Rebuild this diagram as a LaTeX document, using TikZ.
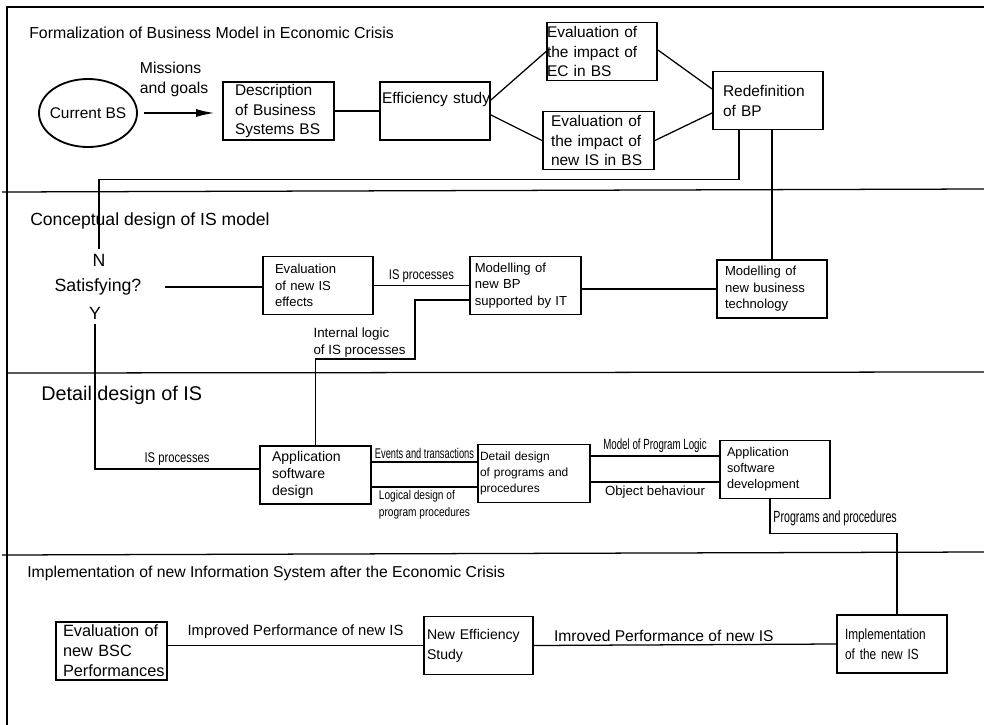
\documentclass[tikz,border=0pt]{standalone}
\usepackage{fontspec}
\setmainfont{Liberation Sans}
\newfontfamily\narrowfont[FakeStretch=0.8]{Liberation Sans}
\newfontfamily\condfont[FakeStretch=0.66]{Liberation Sans}
\usetikzlibrary{shapes,arrows,arrows.meta,positioning,calc}

\newcommand{\fs}[2]{\fontsize{#1}{#2}\selectfont}

\begin{document}
\begin{tikzpicture}[x=0.25mm, y=-0.25mm,
    stage/.style={draw, line width=1.3pt, minimum height=14.5mm, inner ysep=0pt,
                  text width=22.5mm, inner xsep=2.5mm, align=left},
    stage tight/.style={stage, text width=26.5mm, inner xsep=0.5mm},
    link/.style={line width=0.9pt},
    lane/.style={line width=0.9pt},
    lbl/.style={inner sep=2pt},
    title/.style={anchor=west, inner sep=0pt}]
    \useasboundingbox (0,0) rectangle (984,725);

    % Frame and lanes
    \draw[line width=1.4pt] (7,725) -- (7,7) -- (984,7);
    \draw[lane] (2,192) -- (984,189);
    \draw[lane] (7,373) -- (984,372);
    \draw[lane] (2,555) -- (984,552);

    % Lane titles
    \node[title, font=\fs{11.3}{13}] (tformal) at (29,33) {Formalization of Business Model in Economic Crisis};
    \node[title, font=\fs{12.5}{14}] (tconcept) at (30,221) {Conceptual design of IS model};
    \node[title, font=\fs{14.1}{16}] (tdetail) at (41,395) {Detail design of IS};
    \node[title, font=\fs{11.2}{13}] (timpl) at (27,573) {Implementation of new Information System after the Economic Crisis};

    % Formalization
    \node[ellipse, draw, line width=1.3pt, minimum width=24.5mm, minimum height=17mm, inner xsep=-5pt, font=\fs{11}{13}] (current) at (88,113) {Current BS};
    \node[stage, inner xsep=3mm, text width=21.75mm, font=\fs{11}{14.2}] (desc) at (278.5,111) {Description\\of Business\\Systems BS};
    \node[stage tight, font=\fs{11}{14.2}] (eff) at (435,111) {\mbox{Efficiency study}\\[4pt]~};
    \node[stage tight, inner xsep=0pt, text width=27.5mm, font=\fs{11}{14.2}] (evalec) at (602,51.5) {Evaluation of\\the impact of\\EC in BS};
    \node[stage, inner xsep=2mm, text width=23.75mm, font=\fs{11}{14.2}] (evalis) at (598.5,140.5) {Evaluation of\\the impact of\\new IS in BS};
    \node[stage, font=\fs{11}{14.2}] (redef) at (768,100.5) {Redefinition\\of BP};

    % Conceptual design
    \node[font=\fs{12.6}{15}] (satisfy) at (98,287) {Satisfying?};
    \node[font=\fs{12.6}{15}] (no) at (99,260) {N};
    \node[font=\fs{12.6}{15}] (yes) at (95,313) {Y};
    \node[stage, inner xsep=3mm, text width=21.5mm, font=\fs{9.3}{11.8}] (evalnew) at (318,285.5) {Evaluation\\of new IS\\effects};
    \node[stage, inner xsep=1.2mm, text width=25.35mm, font=\fs{9.3}{11.8}] (modelbp) at (525.5,285.5) {Modelling of\\new BP\\supported by IT};
    \node[stage, inner xsep=2mm, text width=23.5mm, font=\fs{9.3}{11.8}] (modeltech) at (772,289) {Modelling of\\new business\\technology};

    % Detail design
    \node[stage, inner xsep=3mm, text width=21.75mm, font=\fs{10}{12.1}] (appdesign) at (315.5,475) {Application\\software\\design};
    \node[stage, inner xsep=0.5mm, text width=27mm, font=\fs{8.5}{11.4}] (detail) at (534,473.5) {Detail design\\of programs and\\procedures};
    \node[stage, inner xsep=1.75mm, text width=24mm, font=\fs{9}{11.4}] (appdev) at (775,469.5) {Application\\software\\development};

    % Implementation
    \node[stage, inner xsep=1.75mm, text width=24.25mm, font=\fs{11.6}{14.2}] (evalbsc) at (111.5,651) {Evaluation of\\new BSC\\Performances};
    \node[stage, inner xsep=0.75mm, text width=25.75mm, font=\fs{10}{14.2}] (neweff) at (478.5,645.5) {New Efficiency\\Study};
    \node[stage, inner xsep=2mm, text width=23.5mm, font=\narrowfont\fs{10.5}{14.2}] (impl) at (892,644) {Implementation\\of the new IS};

    % Connections
    \draw[link, -{Latex[length=4.5mm, width=2mm]}, shorten <=1.5mm, shorten >=2mm] (current.east)
        node[anchor=south west, yshift=3.5mm, inner sep=1pt, align=left, font=\fs{11.2}{14.2}] {Missions\\and goals}
        -- (current.east -| desc.west);
    \draw[link] (desc.east) -- (eff.west);
    \draw[link] ($(eff.east)+(0,-11)$) -- (evalec.west);
    \draw[link] ($(eff.east)+(0,4)$) -- (evalis.west);
    \draw[link] ($(evalec.east)+(0,-1.5)$) -- ($(redef.west)+(0,-11.5)$);
    \draw[link] (evalis.east) -- ($(redef.west)+(0,12.5)$);
    \draw[link] ($(redef.south)+(-29,0)$) -- ++(0,49) -| (no.north);
    \draw[link] (modeltech.north |- redef.south) -- (modeltech.north);

    \draw[link, shorten <=4.75mm] (satisfy.east) -- (satisfy.east -| evalnew.west);
    \draw[link] (evalnew.east) -- node[lbl, above, font=\narrowfont\fs{10}{11}] {IS processes} (modelbp.west);
    \draw[link] (modelbp.east |- modeltech.west) -- (modeltech.west);
    \draw[link] ($(modelbp.west)+(0,14.5)$) -- ++(-54,0) -- ++(0,59) -|
        node[pos=0.5, anchor=south west, xshift=-1mm, inner sep=1pt, align=left, font=\fs{9.5}{11.9}] {Internal logic\\of IS processes}
        (appdesign.north);
    \draw[link] (yes.south) |- node[pos=0.75, lbl, above, font=\narrowfont\fs{10}{11}] {IS processes} ($(appdesign.west)+(0,-6)$);

    \draw[link] ($(appdesign.east)+(0,-13)$) -- node[lbl, above, font=\condfont\fs{10}{12}] {Events and transactions} ($(detail.west)+(0,-11.5)$);
    \draw[link] ($(appdesign.east)+(0,12)$) -- node[lbl, below, align=left, font=\narrowfont\fs{9}{12.1}] {Logical design of\\program procedures} ($(detail.west)+(0,13.5)$);
    \draw[link] ($(detail.east)+(0,-17.5)$) -- node[lbl, above, font=\condfont\fs{10.5}{12}] {Model of Program Logic} ($(appdev.west)+(0,-13.5)$);
    \draw[link] ($(detail.east)+(0,8.5)$) -- node[lbl, below, font=\fs{9.4}{11}] {Object behaviour} ($(appdev.west)+(0,12.5)$);
    \draw[link] ($(appdev.south)+(-5,0)$) -- node[lbl, right, pos=0.55, font=\condfont\fs{11.5}{13}] {Programs and procedures} ++(0,34) -| ($(impl.north)+(5,0)$);

    \draw[link] (neweff.west -| evalbsc.east) -- node[lbl, above, yshift=1mm, font=\fs{10.5}{12}] {Improved Performance of new IS} (neweff.west);
    \draw[link] (neweff.east) -- node[lbl, above, pos=0.43, font=\fs{11.1}{13}] {Imroved Performance of new IS} (impl.west);
\end{tikzpicture}
\end{document}
